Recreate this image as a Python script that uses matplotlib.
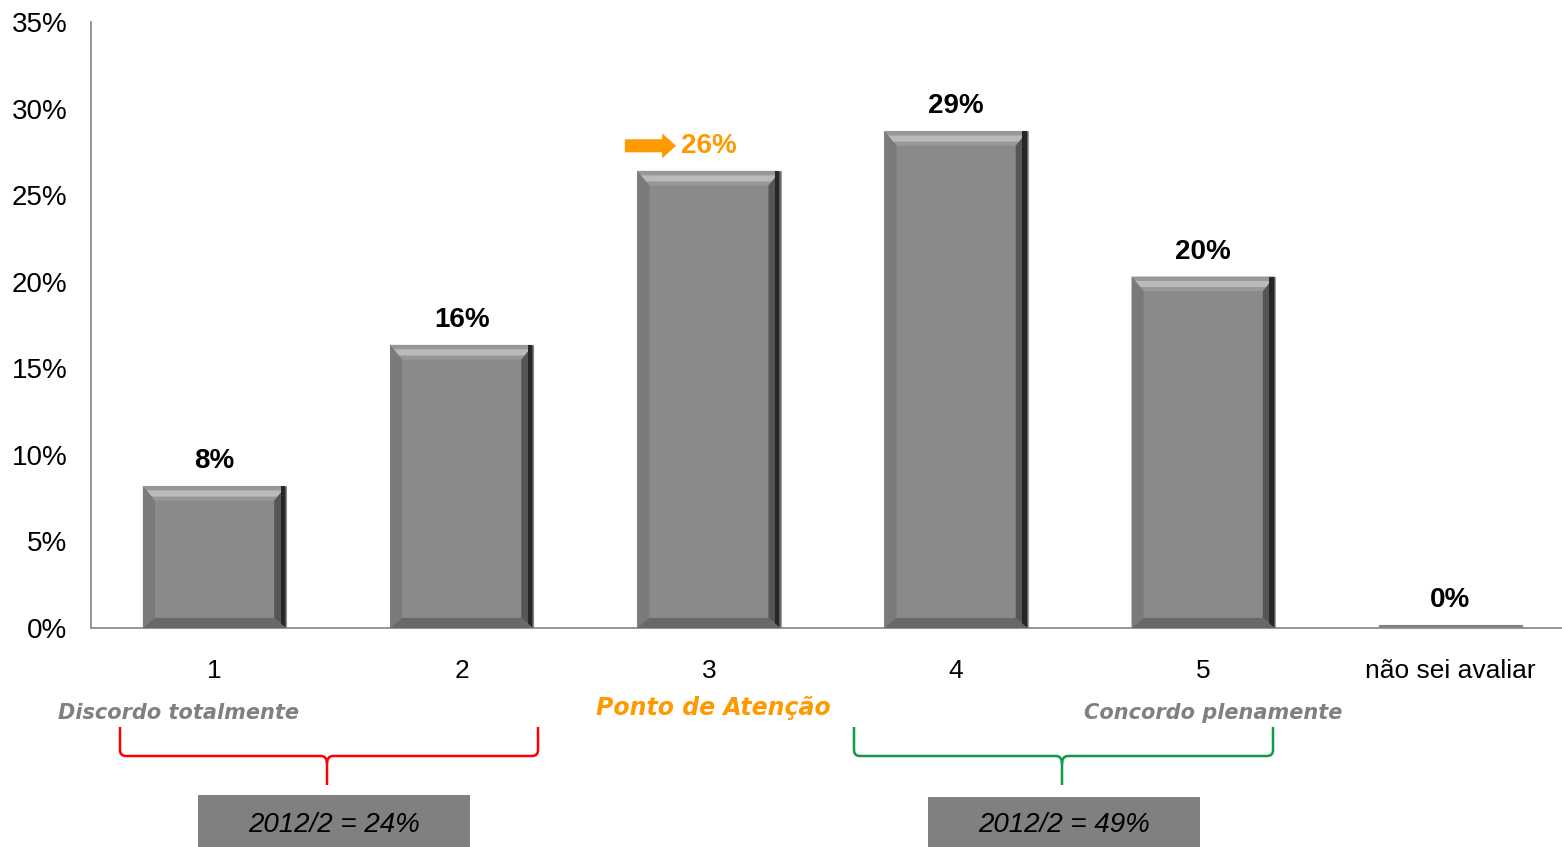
import matplotlib.pyplot as plt
from matplotlib.patches import Polygon, Rectangle, PathPatch
from matplotlib.path import Path

plt.rcParams['font.family'] = ['Liberation Sans', 'DejaVu Sans']

categories = ['1', '2', '3', '4', '5', 'não sei avaliar']
values = [8.2, 16.35, 26.4, 28.7, 20.3, 0.2]
labels = ['8%', '16%', '26%', '29%', '20%', '0%']
yticks = [0, 5, 10, 15, 20, 25, 30, 35]

W, H = 1562, 847
fig = plt.figure(figsize=(W / 100, H / 100), dpi=100)
ax = fig.add_axes([91 / W, 219 / H, 1483 / W, 606 / H])

x = list(range(len(categories)))
bw = 0.58
bars = ax.bar(x, values, width=bw, color='#8a8a8a', edgecolor='#a0a0a0', linewidth=0.8, zorder=2)

# bevel look on each bar
dx = 0.049
for b in bars:
    x0, y0 = b.get_x(), b.get_y()
    w, h = b.get_width(), b.get_height()
    x1, y1 = x0 + w, y0 + h
    if h < 1:
        b.set_color('#7f7f7f')
        continue
    dyt = 0.85
    dyb = 0.58
    top = Polygon([(x0, y1), (x1, y1), (x1 - dx, y1 - dyt), (x0 + dx, y1 - dyt)], closed=True,
                  facecolor='#979797', edgecolor='none', zorder=3)
    ax.add_patch(top)
    ax.add_patch(Polygon([(x0 + dx * 0.3, y1 - dyt * 0.3), (x1 - dx * 0.3, y1 - dyt * 0.3),
                          (x1 - dx * 0.72, y1 - dyt * 0.72), (x0 + dx * 0.72, y1 - dyt * 0.72)], closed=True,
                         facecolor='#bababa', edgecolor='none', zorder=3))
    left = Polygon([(x0, y1), (x0 + dx, y1 - dyt), (x0 + dx, y0 + dyb), (x0, y0)], closed=True,
                   facecolor='#7a7a7a', edgecolor='none', zorder=3)
    ax.add_patch(left)
    right = Polygon([(x1, y1), (x1 - dx, y1 - dyt), (x1 - dx, y0 + dyb), (x1, y0)], closed=True,
                    facecolor='#555555', edgecolor='none', zorder=3)
    ax.add_patch(right)
    ax.add_patch(Rectangle((x1 - dx * 0.45, y0), dx * 0.35, h, facecolor='#262626', edgecolor='none', zorder=3))
    bottom = Polygon([(x0, y0), (x1, y0), (x1 - dx, y0 + dyb), (x0 + dx, y0 + dyb)], closed=True,
                     facecolor='#686868', edgecolor='none', zorder=3)
    ax.add_patch(bottom)

for i, (v, lab) in enumerate(zip(values, labels)):
    col = '#ff9900' if i == 2 else 'black'
    ax.annotate(lab, (x[i], v), xytext=(0, 18), textcoords='offset points', ha='center', va='center',
                fontsize=20, fontweight='bold', color=col)

# orange arrow pointing at the 26% label
ax.annotate('', xy=(x[2] - 0.133, values[2] + 1.45), xytext=(x[2] - 0.34, values[2] + 1.45),
            arrowprops=dict(arrowstyle='simple,head_length=0.5,head_width=0.9,tail_width=0.47',
                            mutation_scale=20, color='#ff9900', lw=0, shrinkA=0, shrinkB=0))

ax.set_xlim(-0.5, 5.5)
ax.set_ylim(0, 35)
ax.set_yticks(yticks)
ax.set_yticklabels([f'{t}%' for t in yticks], fontsize=20)
ax.set_xticks(x)
ax.set_xticklabels(categories, fontsize=19)
ax.tick_params(axis='both', length=0)
ax.tick_params(axis='y', pad=17)
ax.tick_params(axis='x', pad=22)
for s in ['top', 'right']:
    ax.spines[s].set_visible(False)
for s in ['left', 'bottom']:
    ax.spines[s].set_color('#8c8c8c')
    ax.spines[s].set_linewidth(1.3)

# bottom annotations (figure pixel coords)
def fx(px):
    return px / W

def fy(py):
    return 1 - py / H

fig.text(fx(178), fy(713), 'Discordo totalmente', ha='center', va='center', fontsize=15,
         style='italic', fontweight='bold', color='#808080', family='DejaVu Sans')
fig.text(fx(713), fy(708), 'Ponto de Atenção', ha='center', va='center', fontsize=17,
         style='italic', fontweight='bold', color='#ff9900', family='DejaVu Sans')
fig.text(fx(1213), fy(713), 'Concordo plenamente', ha='center', va='center', fontsize=15,
         style='italic', fontweight='bold', color='#808080', family='DejaVu Sans')


def brace(xl, xr, xc, ytop, ymid, ybot, color):
    r = 6
    verts = [(xl, ytop), (xl, ymid - r), (xl, ymid), (xl + r, ymid),
             (xc - r, ymid), (xc, ymid), (xc, ymid + r + 2), (xc, ybot)]
    codes = [Path.MOVETO, Path.LINETO, Path.CURVE3, Path.CURVE3,
             Path.LINETO, Path.CURVE3, Path.CURVE3, Path.LINETO]
    verts2 = [(xr, ytop), (xr, ymid - r), (xr, ymid), (xr - r, ymid),
              (xc + r, ymid), (xc, ymid), (xc, ymid + r + 2)]
    codes2 = [Path.MOVETO, Path.LINETO, Path.CURVE3, Path.CURVE3,
              Path.LINETO, Path.CURVE3, Path.CURVE3]
    for vv, cc in [(verts, codes), (verts2, codes2)]:
        p = Path([(fx(a), fy(b)) for a, b in vv], cc)
        fig.add_artist(PathPatch(p, transform=fig.transFigure, facecolor='none', edgecolor=color, lw=1.8))


brace(120, 538, 327, 727, 756, 785, '#ff0000')
brace(854, 1273, 1062, 727, 756, 785, '#109a45')

for (bx0, bx1, by0, txt) in [(198, 470, 795, '2012/2 = 24%'), (928, 1200, 797, '2012/2 = 49%')]:
    fig.add_artist(Rectangle((fx(bx0), fy(H)), fx(bx1) - fx(bx0), fy(by0) - fy(H),
                             transform=fig.transFigure, facecolor='#808080', edgecolor='none'))
    fig.text(fx((bx0 + bx1) / 2), fy(825), txt, ha='center', va='center', fontsize=20,
             style='italic', color='black')

fig.savefig('out.png', dpi=100)
